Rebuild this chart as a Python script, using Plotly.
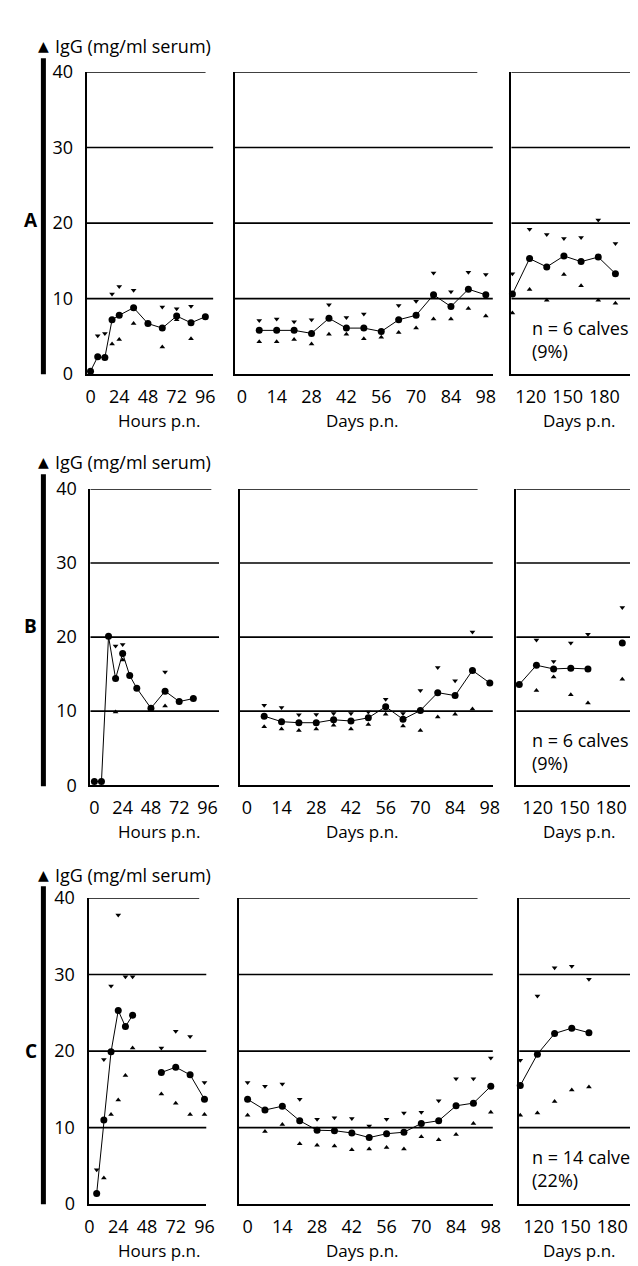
import plotly.graph_objects as go

W, H = 638, 1266
FONT = "Open Sans"

# ---------------- DATA ----------------
# Row A (n = 6 calves, 9%)
hours_A = [0, 6, 12, 18, 24, 36, 48, 60, 72, 84, 96]
mean_A_h = [0.4, 2.3, 2.2, 7.2, 7.8, 8.8, 6.7, 6.1, 7.7, 6.8, 7.6]
upper_A_h = [None, 5.1, 5.4, 10.6, 11.6, 11.1, None, 8.9, 8.65, 9.0, None]
lower_A_h = [None, -0.4, -0.4, 4.0, 4.6, 6.7, None, 3.6, 7.2, 4.7, None]

days_A = [7, 14, 21, 28, 35, 42, 49, 56, 63, 70, 77, 84, 91, 98]
mean_A_d = [5.8, 5.8, 5.8, 5.4, 7.4, 6.1, 6.1, 5.65, 7.2, 7.8, 10.5, 8.95, 11.25, 10.5]
upper_A_d = [7.1, 7.3, 6.95, 7.2, 9.2, 7.5, 7.95, None, 9.1, 9.65, 13.4, 10.9, 13.5, 13.2]
lower_A_d = [4.3, 4.3, 4.6, 4.0, 5.3, 5.3, 4.7, 4.9, 5.5, 6.1, 7.3, 7.3, 8.7, 7.7]

late_A = [105, 119, 133, 147, 161, 175, 189]
mean_A_l = [10.6, 15.3, 14.2, 15.65, 14.9, 15.5, 13.3]
upper_A_l = [13.3, 19.2, 18.5, 17.95, 18.1, 20.4, 17.3]
lower_A_l = [8.1, 11.2, 9.8, 13.2, 11.7, 9.8, 9.4]

# Row B (n = 6 calves, 9%)
hours_B = [0, 6, 12, 18, 24, 30, 36, 48, 60, 72, 84]
mean_B_h = [0.5, 0.5, 20.1, 14.4, 17.8, 14.8, 13.1, 10.4, 12.7, 11.3, 11.7]
upper_B_h = [None, None, None, 18.8, 19.0, None, None, None, 15.3, None, None]
lower_B_h = [None, None, None, 9.9, 16.9, None, None, None, 10.7, None, None]
outlier_B_h_x = [-21]
outlier_B_h_y = [24.9]

days_B = [7, 14, 21, 28, 35, 42, 49, 56, 63, 70, 77, 84, 91, 98]
mean_B_d = [9.33, 8.58, 8.44, 8.44, 8.84, 8.67, 9.1, 10.6, 8.9, 10.1, 12.5, 12.1, 15.5, 13.8]
upper_B_d = [10.8, 10.5, 9.5, 9.55, 9.7, 9.7, 9.9, 11.6, 9.7, 12.8, 15.9, 14.1, 20.7, None]
lower_B_d = [7.9, 7.6, 7.4, 7.6, 8.1, 7.6, 8.2, 9.6, 8.0, 7.4, 9.2, 9.6, 10.3, None]

late_B = [105, 119, 133, 147, 161, 175, 189]
mean_B_l = [13.6, 16.2, 15.7, 15.8, 15.7, None, 19.2]
upper_B_l = [None, 19.6, 16.7, 19.2, 20.4, None, 24.0]
lower_B_l = [None, 12.8, 14.6, 12.2, 11.1, None, 14.3]

# Row C (n = 14 calves, 22%)
hours_C = [6, 12, 18, 24, 30, 36, 48, 60, 72, 84, 96]
mean_C_h = [1.4, 11.0, 19.9, 25.3, 23.2, 24.7, None, 17.2, 17.9, 16.9, 13.7]
upper_C_h = [4.5, 18.9, 28.5, 37.8, 29.7, 29.7, None, 20.4, 22.6, 21.9, 15.9]
lower_C_h = [None, 3.4, 11.7, 13.6, 16.8, 20.4, None, 14.4, 13.2, 11.7, 11.7]

days_C = [0, 7, 14, 21, 28, 35, 42, 49, 56, 63, 70, 77, 84, 91, 98]
mean_C_d = [13.7, 12.3, 12.8, 10.9, 9.66, 9.6, 9.3, 8.7, 9.2, 9.4, 10.55, 10.9, 12.85, 13.2, 15.4]
upper_C_d = [15.9, 15.4, 15.7, 13.7, 11.1, 11.3, 11.2, 10.2, 11.1, 11.9, 12.0, 13.5, 16.4, 16.4, 19.1]
lower_C_d = [11.6, 9.5, 10.4, 7.9, 7.7, 7.6, 7.1, 7.2, 7.4, 7.2, 8.8, 8.4, 9.1, 10.55, 12.0]

late_C = [105, 119, 133, 147, 161]
mean_C_l = [15.5, 19.6, 22.3, 23.0, 22.4]
upper_C_l = [18.8, 27.2, 30.9, 31.1, 29.4]
lower_C_l = [11.6, 11.9, 13.4, 14.9, 15.3]

row_labels = ["A", "B", "C"]
n_texts = ["n = 6 calves<br>(9%)", "n = 6 calves<br>(9%)", "n = 14 calves<br>(22%)"]
y_title = "IgG (mg/ml serum)"
hours_title = "Hours p.n."
days_title = "Days p.n."
hour_ticks = [0, 24, 48, 72, 96]
day_ticks = [0, 14, 28, 42, 56, 70, 84, 98]
late_ticks = [120, 150, 180]
y_ticks = [0, 10, 20, 30, 40]

# ---------------- LAYOUT GEOMETRY (pixels) ----------------
rows = [
    dict(title_y=25, bar=(38, 360), ydom=(52, 360), label_y=203, axis_t=407,
         xdom=[(76, 205), (227, 490), (509, 638)],
         xr=[(-3.3, 102.5), (-2.85, 100.8), (104.2, 207.4)]),
    dict(title_y=450, bar=(462, 780), ydom=(477, 779), label_y=617, axis_t=826,
         xdom=[(80, 211), (232, 490), (514, 638)],
         xr=[(-3.3, 105.8), (-2.9, 99.2), (102.6, 201.8)]),
    dict(title_y=870, bar=(882, 1206), ydom=(894, 1206), label_y=1050, axis_t=1253,
         xdom=[(78, 198), (231, 490), (517, 638)],
         xr=[(-0.8, 97.5), (-3.6, 98.8), (104.2, 201.0)]),
]

panels = [
    [(hours_A, mean_A_h, upper_A_h, lower_A_h), (days_A, mean_A_d, upper_A_d, lower_A_d),
     (late_A, mean_A_l, upper_A_l, lower_A_l)],
    [(hours_B, mean_B_h, upper_B_h, lower_B_h), (days_B, mean_B_d, upper_B_d, lower_B_d),
     (late_B, mean_B_l, upper_B_l, lower_B_l)],
    [(hours_C, mean_C_h, upper_C_h, lower_C_h), (days_C, mean_C_d, upper_C_d, lower_C_d),
     (late_C, mean_C_l, upper_C_l, lower_C_l)],
]


def px(x):
    return x / W


def py(y):
    return 1 - y / H


fig = go.Figure()
layout = dict(
    width=W, height=H, margin=dict(l=0, r=0, t=0, b=0),
    paper_bgcolor="white", plot_bgcolor="white", showlegend=False,
    font=dict(family=FONT, size=18, color="black"),
)
shapes = []
annotations = []

for r, row in enumerate(rows):
    for c in range(3):
        idx = r * 3 + c + 1
        xa = "xaxis" if idx == 1 else f"xaxis{idx}"
        ya = "yaxis" if idx == 1 else f"yaxis{idx}"
        xref = "x" if idx == 1 else f"x{idx}"
        yref = "y" if idx == 1 else f"y{idx}"
        x0, x1 = row["xdom"][c]
        ticks = [hour_ticks, day_ticks, late_ticks][c]
        layout[xa] = dict(
            domain=[px(x0), min(px(x1), 1.0)], range=list(row["xr"][c]), anchor=yref,
            showgrid=False, zeroline=False, showline=True, linecolor="black", linewidth=2,
            ticks="", tickvals=ticks, ticktext=[str(t) for t in ticks],
            tickfont=dict(family=FONT, size=18, color="black"), ticklabelstandoff=5,
        )
        layout[ya] = dict(
            domain=[py(row["ydom"][1]), py(row["ydom"][0])], range=[0, 40], anchor=xref,
            showgrid=False, zeroline=False, showline=True, linecolor="black", linewidth=2,
            ticks="", tickvals=y_ticks, showticklabels=(c == 0),
            tickfont=dict(family=FONT, size=18, color="black"), ticklabelstandoff=8,
        )
        # horizontal reference lines
        for v in [10, 20, 30]:
            shapes.append(dict(type="line", xref=f"{xref} domain", yref=yref, x0=0, x1=1,
                               y0=v, y1=v, line=dict(color="black", width=1.6), layer="below"))
        shapes.append(dict(type="line", xref=f"{xref} domain", yref=yref, x0=0, x1=0.94,
                           y0=40, y1=40, line=dict(color="black", width=1.6), layer="below"))

        xs, mean, up, lo = panels[r][c]
        fig.add_trace(go.Scatter(x=xs, y=mean, mode="lines+markers", xaxis=xref, yaxis=yref,
                                 line=dict(color="black", width=1), connectgaps=False,
                                 marker=dict(symbol="circle", size=7, color="black"),
                                 cliponaxis=False))
        fig.add_trace(go.Scatter(x=xs, y=up, mode="markers", xaxis=xref, yaxis=yref,
                                 marker=dict(symbol="triangle-down", size=5, color="black"),
                                 cliponaxis=False))
        fig.add_trace(go.Scatter(x=xs, y=lo, mode="markers", xaxis=xref, yaxis=yref,
                                 marker=dict(symbol="triangle-up", size=5, color="black"),
                                 cliponaxis=False))
        if r == 1 and c == 0:
            fig.add_trace(go.Scatter(x=outlier_B_h_x, y=outlier_B_h_y, mode="markers",
                                     xaxis=xref, yaxis=yref, cliponaxis=False,
                                     marker=dict(symbol="triangle-down", size=5, color="black")))
        if c == 2:
            annotations.append(dict(text=n_texts[r], xref="paper", yref=yref, x=px(528), y=4.6,
                                    xanchor="left", yanchor="middle", align="left", showarrow=False,
                                    font=dict(family=FONT, size=18, color="black")))

    # axis titles under panels
    for cx, t in [(150, hours_title), (357, days_title), (578, days_title)]:
        annotations.append(dict(text=t, xref="paper", yref="paper", x=px(cx), y=py(row["axis_t"]),
                                xanchor="center", yanchor="middle", showarrow=False,
                                font=dict(family=FONT, size=17, color="black")))
    # y title with arrow
    annotations.append(dict(text="▲", xref="paper", yref="paper", x=px(32), y=py(row["title_y"]),
                            xanchor="center", yanchor="middle", showarrow=False,
                            font=dict(family="DejaVu Sans", size=14, color="black")))
    annotations.append(dict(text=y_title, xref="paper", yref="paper", x=px(42), y=py(row["title_y"]),
                            xanchor="left", yanchor="middle", showarrow=False,
                            font=dict(family=FONT, size=18, color="black")))
    # row letter
    annotations.append(dict(text=f"<b>{row_labels[r]}</b>", xref="paper", yref="paper",
                            x=px(19), y=py(row["label_y"]), xanchor="center", yanchor="middle",
                            showarrow=False, font=dict(family=FONT, size=19, color="black")))
    # thick vertical bar
    shapes.append(dict(type="line", xref="paper", yref="paper", x0=px(32), x1=px(32),
                       y0=py(row["bar"][0]), y1=py(row["bar"][1]),
                       line=dict(color="black", width=5)))

layout["shapes"] = shapes
layout["annotations"] = annotations
fig.update_layout(**layout)
fig.write_html("out.html")
